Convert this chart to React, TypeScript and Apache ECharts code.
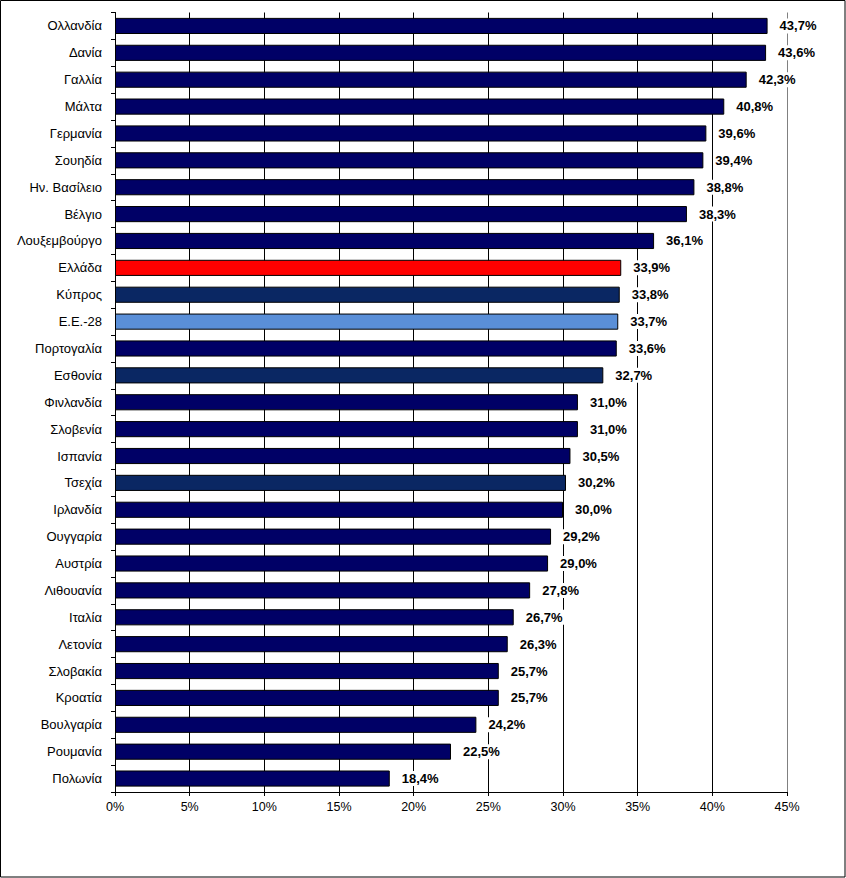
import React, { useEffect, useRef } from "react";
import * as echarts from "echarts";

const categories: string[] = [
  "Ολλανδία", "Δανία", "Γαλλία", "Μάλτα", "Γερμανία", "Σουηδία", "Ην. Βασίλειο",
  "Βέλγιο", "Λουξεμβούργο", "Ελλάδα", "Κύπρος", "Ε.Ε.-28", "Πορτογαλία", "Εσθονία",
  "Φινλανδία", "Σλοβενία", "Ισπανία", "Τσεχία", "Ιρλανδία", "Ουγγαρία", "Αυστρία",
  "Λιθουανία", "Ιταλία", "Λετονία", "Σλοβακία", "Κροατία", "Βουλγαρία", "Ρουμανία", "Πολωνία",
];
const values: number[] = [
  43.7, 43.6, 42.3, 40.8, 39.6, 39.4, 38.8, 38.3, 36.1, 33.9, 33.8, 33.7, 33.6, 32.7,
  31.0, 31.0, 30.5, 30.2, 30.0, 29.2, 29.0, 27.8, 26.7, 26.3, 25.7, 25.7, 24.2, 22.5, 18.4,
];
const xTicks: number[] = [0, 5, 10, 15, 20, 25, 30, 35, 40, 45];

const redCats = ["Ελλάδα"];
const lightCats = ["Ε.Ε.-28"];
const midCats = ["Κύπρος", "Εσθονία", "Τσεχία"];

function barColor(name: string): string {
  if (redCats.includes(name)) return "#ff0000";
  if (lightCats.includes(name)) return "#5a8fd8";
  if (midCats.includes(name)) return "#0a2763";
  return "#000066";
}

export default function App() {
  const ref = useRef<HTMLDivElement>(null);
  useEffect(() => {
    if (!ref.current) return;
    const chart = echarts.init(ref.current, null, { renderer: "svg" });
    const font = "Arial, 'Liberation Sans', sans-serif";
    const splitColors = xTicks.map((t, i) => (i === xTicks.length - 1 ? "#808080" : "#000000"));
    chart.setOption({
      animation: false,
      backgroundColor: "#ffffff",
      grid: { left: 115, right: 59, top: 12.5, bottom: 86, containLabel: false },
      graphic: [
        {
          type: "rect",
          shape: { x: 0.5, y: 0.5, width: 844.5, height: 876.5 },
          style: { fill: "none", stroke: "#000", lineWidth: 1 },
          silent: true,
        },
      ],
      xAxis: {
        type: "value",
        min: 0,
        max: 45,
        interval: 5,
        axisLine: { show: true, lineStyle: { color: "#000", width: 1 } },
        axisTick: { show: true, length: 4, lineStyle: { color: "#000" } },
        axisLabel: {
          formatter: (v: number) => v + "%",
          color: "#000",
          fontFamily: font,
          fontSize: 12.5,
          margin: 8,
        },
        splitLine: { show: true, lineStyle: { color: splitColors, width: 1 } },
      },
      yAxis: {
        type: "category",
        data: categories,
        inverse: true,
        axisLine: { show: true, lineStyle: { color: "#000", width: 1 } },
        axisTick: { show: true, length: 4, lineStyle: { color: "#000" } },
        axisLabel: { color: "#000", fontFamily: font, fontSize: 13, margin: 13 },
      },
      series: [
        {
          type: "bar",
          barCategoryGap: "40%",
          data: values.map((v, i) => ({
            value: v,
            itemStyle: { color: barColor(categories[i]), borderColor: "#000", borderWidth: 1 },
          })),
          label: {
            show: true,
            position: "right",
            distance: 10,
            formatter: (p: any) => p.value.toFixed(1).replace(".", ",") + "%",
            color: "#000",
            fontWeight: "bold",
            fontFamily: font,
            fontSize: 13,
            backgroundColor: "#ffffff",
            padding: [1, 2],
          },
        },
      ],
    });
    return () => chart.dispose();
  }, []);
  return (
    <div
      ref={ref}
      style={{ position: "fixed", left: 0, top: 0, width: 846, height: 878 }}
    />
  );
}
